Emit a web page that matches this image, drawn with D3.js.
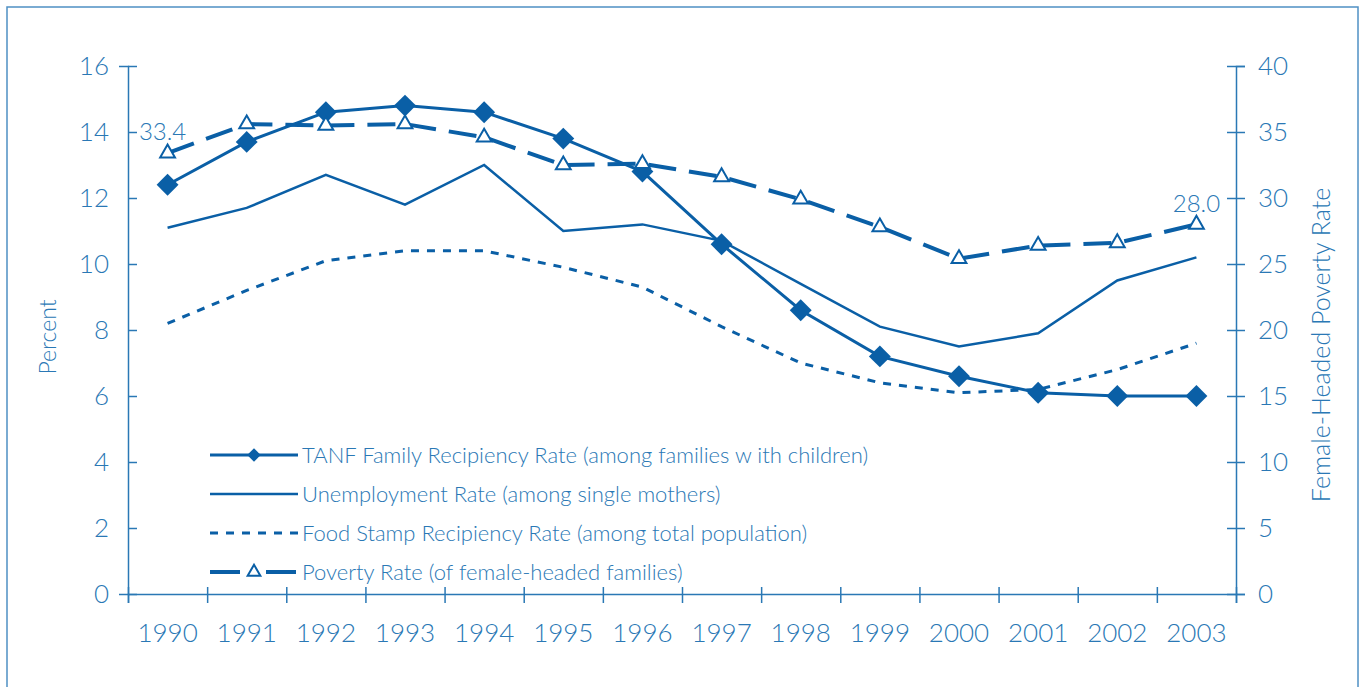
<!DOCTYPE html>
<html>
<head>
<meta charset="utf-8">
<script src="https://cdn.jsdelivr.net/npm/d3@7"></script>
<style>
  body { margin: 0; background: #fff; }
  text { font-family: "Lato", "Open Sans", sans-serif; font-weight: 300; fill: #2a78b5; }
</style>
</head>
<body>
<svg id="chart" width="1362" height="687"></svg>
<script>
const years = ["1990","1991","1992","1993","1994","1995","1996","1997","1998","1999","2000","2001","2002","2003"];
const tanf = [12.4, 13.7, 14.6, 14.8, 14.6, 13.8, 12.8, 10.6, 8.6, 7.2, 6.6, 6.1, 6.0, 6.0];
const unemployment = [11.1, 11.7, 12.7, 11.8, 13.0, 11.0, 11.2, 10.7, 9.4, 8.1, 7.5, 7.9, 9.5, 10.2];
const foodStamp = [8.2, 9.2, 10.1, 10.4, 10.4, 9.9, 9.3, 8.1, 7.0, 6.4, 6.1, 6.2, 6.8, 7.6];
const poverty = [33.4, 35.6, 35.5, 35.6, 34.6, 32.5, 32.6, 31.6, 29.9, 27.8, 25.4, 26.4, 26.6, 28.0];
const leftTicks = [0, 2, 4, 6, 8, 10, 12, 14, 16];
const rightTicks = [0, 5, 10, 15, 20, 25, 30, 35, 40];
const legendLabels = [
  "TANF Family Recipiency Rate (among families w ith children)",
  "Unemployment Rate (among single mothers)",
  "Food Stamp Recipiency Rate (among total population)",
  "Poverty Rate (of female-headed families)"
];

const blue = "#0a5fa6";
const axisBlue = "#2a78b5";
const svg = d3.select("#chart");

// frame
svg.append("rect")
  .attr("x", 7).attr("y", 7).attr("width", 1351).attr("height", 700)
  .attr("fill", "none").attr("stroke", "#4f90c4").attr("stroke-width", 1.5);

const plotLeft = 128, plotRight = 1236, plotTop = 66, plotBottom = 594;
const x = d3.scaleBand().domain(years).range([plotLeft, plotRight]);
const xEdge = d3.scaleLinear().domain([0, years.length]).range([plotLeft, plotRight]);
const yL = d3.scaleLinear().domain([0, 16]).range([plotBottom, plotTop]);
const yR = d3.scaleLinear().domain([0, 40]).range([plotBottom, plotTop]);
const cx = d => x(d) + x.bandwidth() / 2;

// y axes, ticks cross the axis line
const gL = svg.append("g").attr("transform", `translate(${plotLeft},0)`)
  .call(d3.axisLeft(yL).tickValues(leftTicks).tickSize(9).tickPadding(10));
gL.selectAll(".tick line").attr("x2", 9);
const gR = svg.append("g").attr("transform", `translate(${plotRight},0)`)
  .call(d3.axisRight(yR).tickValues(rightTicks).tickSize(9).tickPadding(13));
gR.selectAll(".tick line").attr("x1", -9).attr("x2", 9);

// x axis: ticks at band edges, labels at centers
const gX = svg.append("g").attr("transform", `translate(0,${plotBottom})`)
  .call(d3.axisBottom(xEdge).tickValues(d3.range(years.length + 1)).tickSize(9).tickFormat(""));
gX.selectAll(".tick line").attr("y1", -7);
const gXL = svg.append("g").attr("transform", `translate(0,${plotBottom})`)
  .call(d3.axisBottom(x).tickSize(0).tickPadding(30));
gXL.select(".domain").remove();

[gL, gR, gX].forEach(g => {
  g.select(".domain").attr("stroke", axisBlue).attr("stroke-width", 1.5);
  g.selectAll(".tick line").attr("stroke", axisBlue).attr("stroke-width", 1.5);
});
svg.selectAll(".tick text").style("font-size", "26px").attr("fill", axisBlue)
  .style("font-family", "Lato, sans-serif").style("font-weight", 300);
gXL.selectAll(".tick text").attr("dy", "0.71em");

// axis titles
svg.append("text").attr("transform", "translate(56,337) rotate(-90)")
  .attr("text-anchor", "middle").style("font-size", "23px").text("Percent");
svg.append("text").attr("transform", "translate(1330,345) rotate(-90)")
  .attr("text-anchor", "middle").style("font-size", "25px").text("Female-Headed Poverty Rate");

// lines
const lineL = d3.line().x((d, i) => cx(years[i])).y(d => yL(d));
const lineR = d3.line().x((d, i) => cx(years[i])).y(d => yR(d));

svg.append("path").attr("d", lineL(foodStamp)).attr("fill", "none")
  .attr("stroke", blue).attr("stroke-width", 3).attr("stroke-dasharray", "8,8");
svg.append("path").attr("d", lineL(unemployment)).attr("fill", "none")
  .attr("stroke", blue).attr("stroke-width", 2.5);
svg.append("path").attr("d", lineR(poverty)).attr("fill", "none")
  .attr("stroke", blue).attr("stroke-width", 4).attr("stroke-dasharray", "28,13");
svg.append("path").attr("d", lineL(tanf)).attr("fill", "none")
  .attr("stroke", blue).attr("stroke-width", 3);

const diamond = d3.symbol().type(d3.symbolSquare).size(240);
svg.selectAll(".dia").data(tanf).enter().append("path")
  .attr("d", diamond)
  .attr("transform", (d, i) => `translate(${cx(years[i])},${yL(d)}) rotate(45)`)
  .attr("fill", blue);

const tri = d3.symbol().type(d3.symbolTriangle).size(95);
svg.selectAll(".tri").data(poverty).enter().append("path")
  .attr("d", tri)
  .attr("transform", (d, i) => `translate(${cx(years[i])},${yR(d)})`)
  .attr("fill", "#fff").attr("stroke", blue).attr("stroke-width", 2);

// end labels
svg.append("text").attr("x", cx(years[0]) - 5).attr("y", 140).attr("text-anchor", "middle")
  .style("font-size", "24px").text(poverty[0].toFixed(1));
svg.append("text").attr("x", cx(years[13])).attr("y", 212).attr("text-anchor", "middle")
  .style("font-size", "24px").text(poverty[13].toFixed(1));

// legend
const lg = svg.append("g");
const lx0 = 210, lx1 = 298, ly0 = 455, lstep = 39;
legendLabels.forEach((lab, i) => {
  const yy = ly0 + i * lstep;
  const p = lg.append("line").attr("x1", lx0).attr("x2", lx1).attr("y1", yy).attr("y2", yy)
    .attr("stroke", blue).attr("stroke-width", [3, 2.5, 3, 4][i]);
  if (i === 2) p.attr("stroke-dasharray", "8,8");
  if (i === 3) p.attr("stroke-dasharray", "30,26");
  if (i === 0) lg.append("path").attr("d", d3.symbol().type(d3.symbolSquare).size(90))
    .attr("transform", `translate(254,${yy}) rotate(45)`).attr("fill", blue);
  if (i === 3) lg.append("path").attr("d", d3.symbol().type(d3.symbolTriangle).size(70))
    .attr("transform", `translate(254,${yy})`).attr("fill", "#fff").attr("stroke", blue).attr("stroke-width", 2);
  lg.append("text").attr("x", 302).attr("y", yy).attr("dy", "0.35em")
    .style("font-size", "22px").text(lab);
});
</script>
</body>
</html>
